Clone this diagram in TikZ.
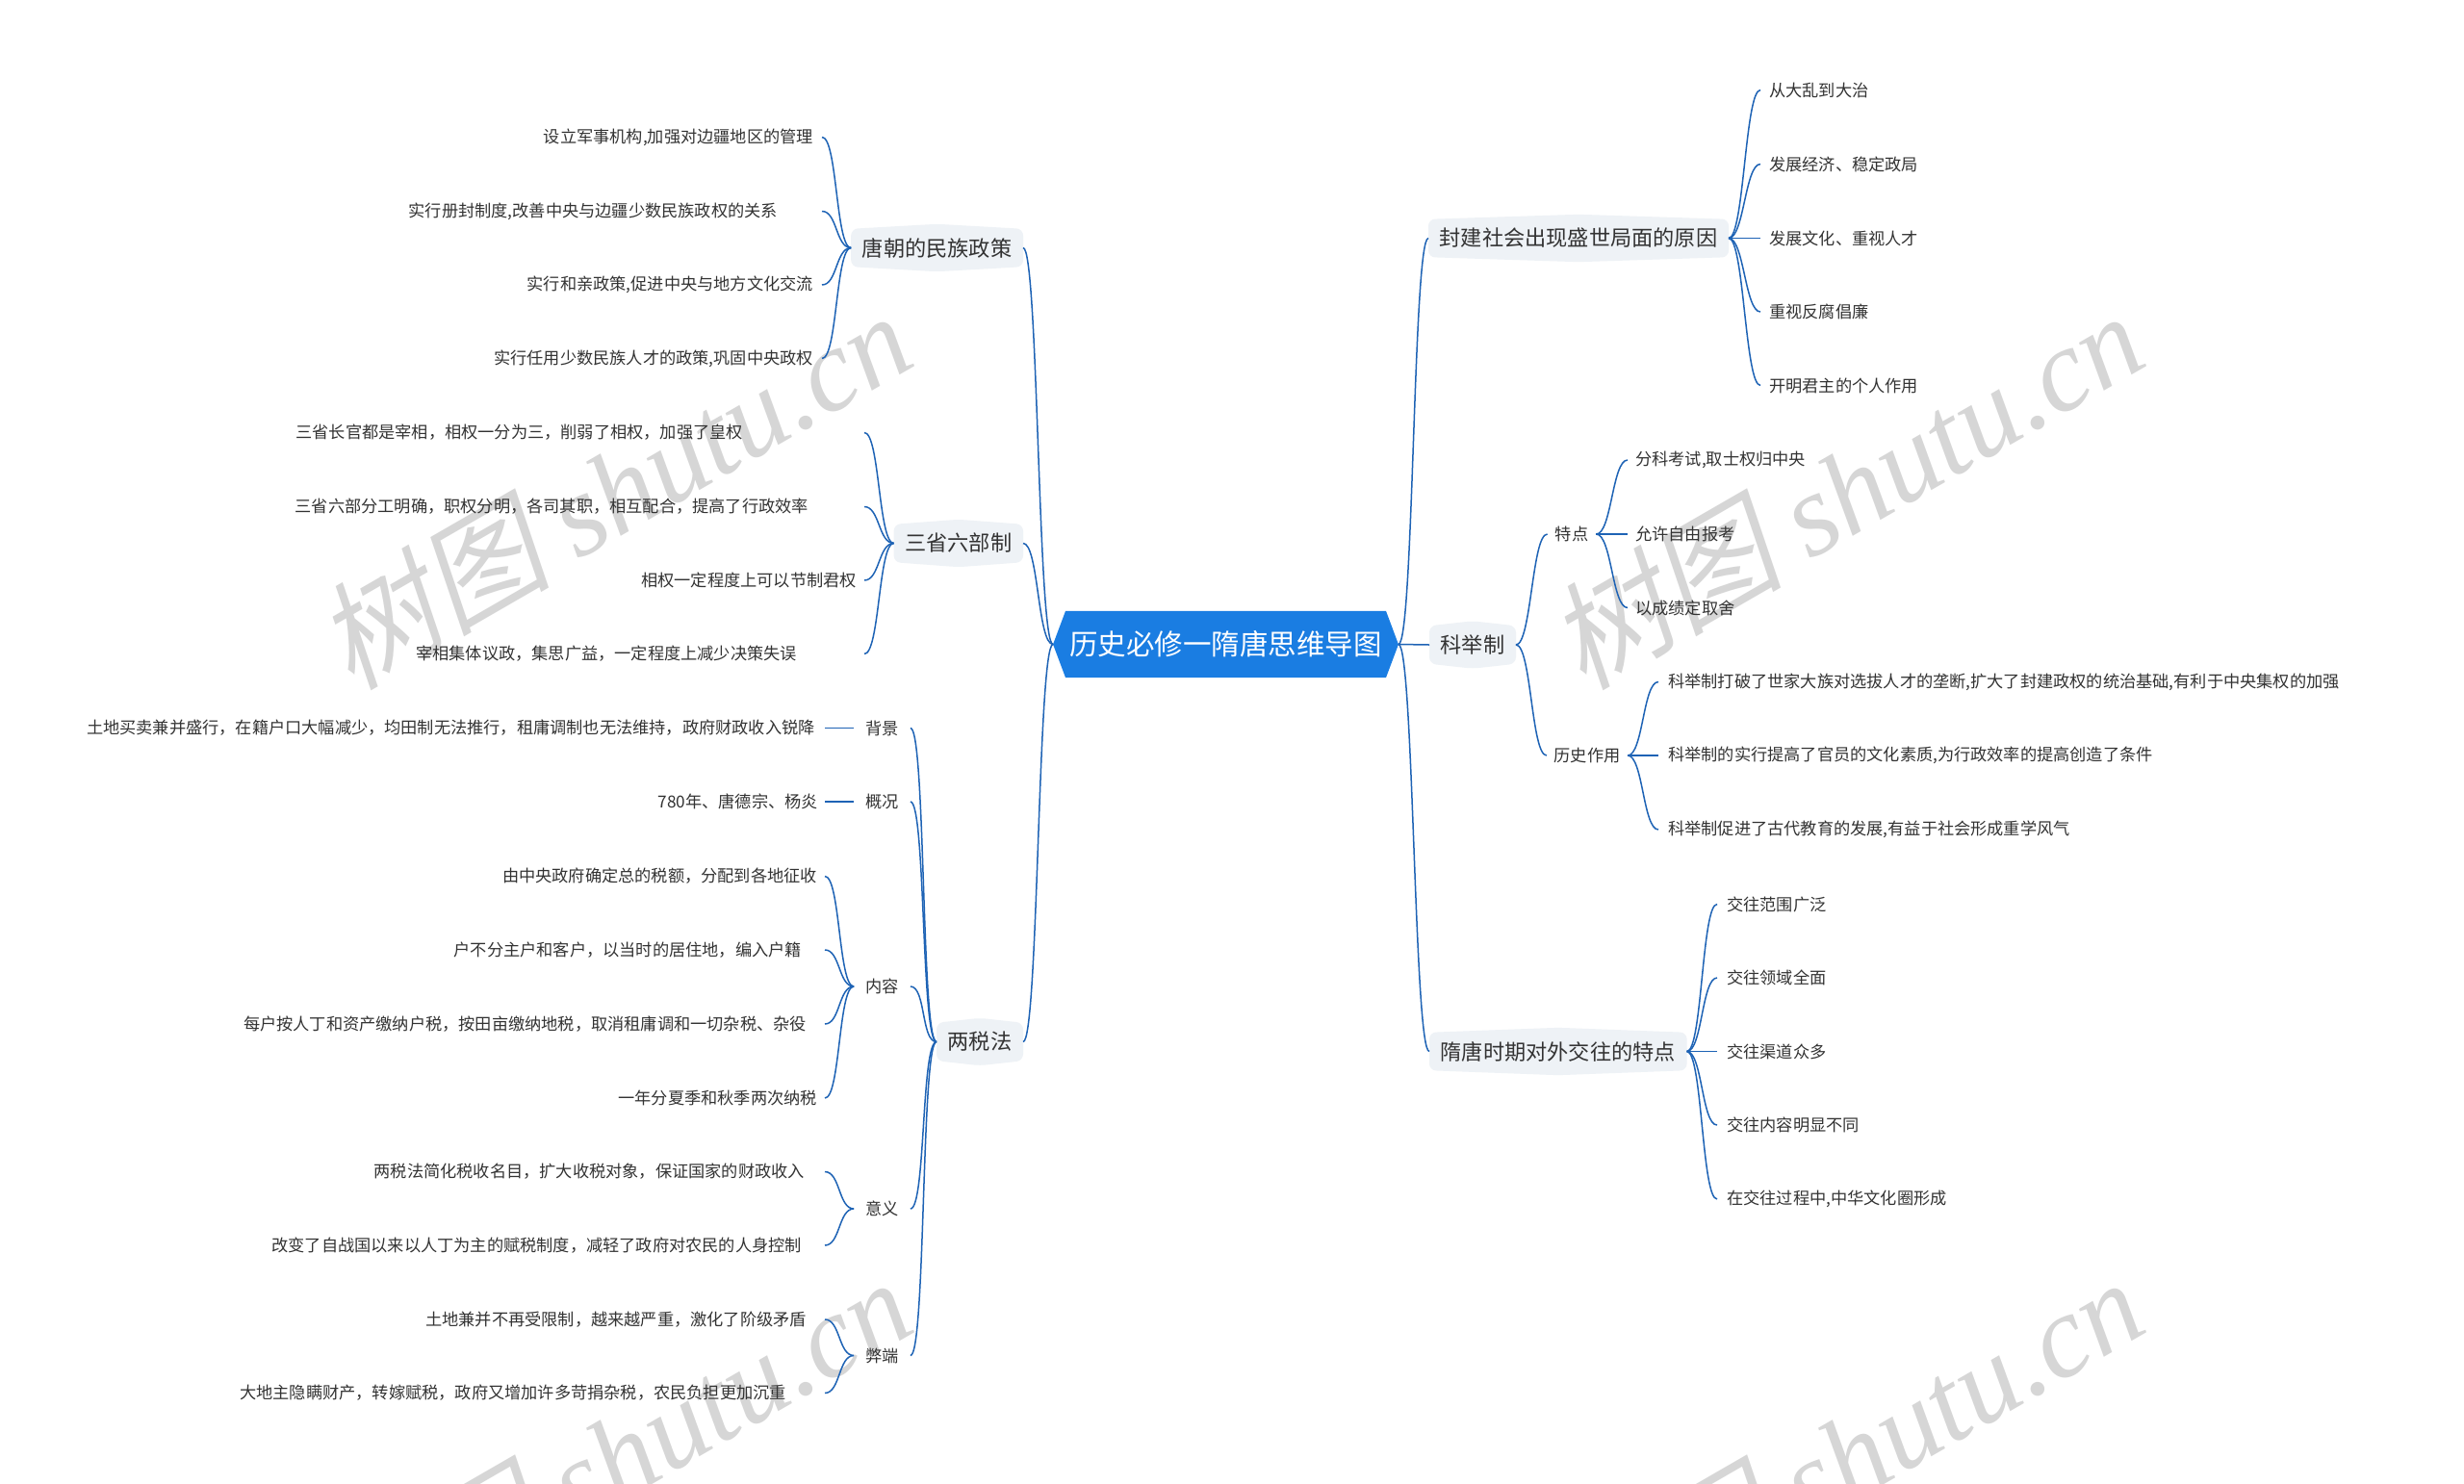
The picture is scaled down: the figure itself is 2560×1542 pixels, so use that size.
\documentclass[tikz,border=0pt]{standalone}
\usepackage{fontspec}
\newfontfamily\cjk{Noto Sans CJK SC}
\newfontfamily\wmcjk[FakeSlant=0.2]{Noto Sans CJK SC}
\newfontfamily\wmlat{Liberation Serif}
\usetikzlibrary{calc}
\definecolor{linec}{HTML}{1E63B5}
\definecolor{rootc}{HTML}{1A7DE2}
\definecolor{boxc}{HTML}{EEF2F6}
\definecolor{txtc}{HTML}{333333}
\definecolor{wmc}{HTML}{D6D6D6}
\pgfdeclarelayer{bg}
\pgfdeclarelayer{back}
\pgfsetlayers{back,bg,main}
\tikzset{
  leafnode/.style={font=\cjk\fontsize{17.2}{20}\selectfont, text=txtc, inner ysep=3},
  leafL/.style={leafnode, anchor=east},
  leafR/.style={leafnode, anchor=west},
  subnode/.style={leafnode},
  rootnode/.style={font=\cjk\fontsize{29.5}{34}\selectfont, text=white, inner xsep=17, inner ysep=0, minimum height=69},
  mainnode/.style={font=\cjk\fontsize{22.2}{26}\selectfont, text=txtc, inner xsep=11.5, inner ysep=0, minimum height=49},
  wmnode/.style={rotate=30, text=wmc, inner sep=0},
  linkL/.style={draw=linec, line width=1.5, to path={.. controls +(-16,0) and +(16,0) .. (\tikztotarget)}},
  linkR/.style={draw=linec, line width=1.5, to path={.. controls +(16,0) and +(-16,0) .. (\tikztotarget)}},
}
\begin{document}
\begin{tikzpicture}[x=1pt,y=-1pt]
\useasboundingbox (0,0) rectangle (2560,1542);
\begin{pgfonlayer}{back}
\fill[white] (0,0) rectangle (2560,1542);
\end{pgfonlayer}

% watermarks
\node[wmnode] (wm1) at (637,508) {\wmcjk\fontsize{122}{130}\selectfont 树图 \wmlat\itshape shutu.cn};
\node[wmnode] (wm2) at (1917,508) {\wmcjk\fontsize{122}{130}\selectfont 树图 \wmlat\itshape shutu.cn};
\node[wmnode] (wm3) at (637,1512) {\wmcjk\fontsize{122}{130}\selectfont 树图 \wmlat\itshape shutu.cn};
\node[wmnode] (wm4) at (1917,1512) {\wmcjk\fontsize{122}{130}\selectfont 树图 \wmlat\itshape shutu.cn};

% root
\node[rootnode] (r) at (1273.5,669.5) {历史必修一隋唐思维导图};

% main branches
\node[mainnode, anchor=east] (b1) at (1063,257.5) {唐朝的民族政策};
\node[mainnode, anchor=east] (b2) at (1063,564.5) {三省六部制};
\node[mainnode, anchor=east] (b3) at (1063,1082.5) {两税法};
\node[mainnode, anchor=west] (b4) at (1484,247.5) {封建社会出现盛世局面的原因};
\node[mainnode, anchor=west] (b5) at (1485,670) {科举制};
\node[mainnode, anchor=west] (b6) at (1485,1092.5) {隋唐时期对外交往的特点};

\begin{pgfonlayer}{bg}
\fill[rootc] (r.west) -- ($(r.north west)+(13,0)$) -- ($(r.north east)+(-13,0)$) -- (r.east) -- ($(r.south east)+(-13,0)$) -- ($(r.south west)+(13,0)$) -- cycle;
\foreach \n in {b1,b2,b3,b4,b5,b6}{
  \fill[boxc, rounded corners=7] ($(\n.north west)+(0,5)$) -- (\n.north) -- ($(\n.north east)+(0,5)$) -- ($(\n.south east)+(0,-5)$) -- (\n.south) -- ($(\n.south west)+(0,-5)$) -- cycle;
}
\end{pgfonlayer}

% branch 1 leaves
\node[leafL, inner xsep=9] (b1a) at (854,142.5) {设立军事机构,加强对边疆地区的管理};
\node[leafL, inner xsep=46] (b1b) at (854,219.5) {实行册封制度,改善中央与边疆少数民族政权的关系};
\node[leafL, inner xsep=9] (b1c) at (854,296) {实行和亲政策,促进中央与地方文化交流};
\node[leafL, inner xsep=9] (b1d) at (854,372.5) {实行任用少数民族人才的政策,巩固中央政权};

% branch 2 leaves
\node[leafL, inner xsep=126] (b2a) at (898,449.5) {三省长官都是宰相，相权一分为三，削弱了相权，加强了皇权};
\node[leafL, inner xsep=58] (b2b) at (898,526.5) {三省六部分工明确，职权分明，各司其职，相互配合，提高了行政效率};
\node[leafL, inner xsep=8] (b2c) at (898,603) {相权一定程度上可以节制君权};
\node[leafL, inner xsep=70] (b2d) at (898,679.5) {宰相集体议政，集思广益，一定程度上减少决策失误};

% branch 3 sub-branches
\node[subnode, inner xsep=12] (s1) at (916.5,756.5) {背景};
\node[subnode, inner xsep=12] (s2) at (916.5,833) {概况};
\node[subnode, inner xsep=12] (s3) at (916.5,1025) {内容};
\node[subnode, inner xsep=12] (s4) at (916.5,1256) {意义};
\node[subnode, inner xsep=12] (s5) at (916.5,1408.5) {弊端};

\node[leafL, inner xsep=10] (s1a) at (857,756.5) {土地买卖兼并盛行，在籍户口大幅减少，均田制无法推行，租庸调制也无法维持，政府财政收入锐降};
\node[leafL, inner xsep=7] (s2a) at (857,833) {780年、唐德宗、杨炎};
\node[leafL, inner xsep=8] (s3a) at (857,910.5) {由中央政府确定总的税额，分配到各地征收};
\node[leafL, inner xsep=24] (s3b) at (857,987) {户不分主户和客户，以当时的居住地，编入户籍};
\node[leafL, inner xsep=19] (s3c) at (857,1064) {每户按人丁和资产缴纳户税，按田亩缴纳地税，取消租庸调和一切杂税、杂役};
\node[leafL, inner xsep=8] (s3d) at (857,1141) {一年分夏季和秋季两次纳税};
\node[leafL, inner xsep=21] (s4a) at (857,1217.5) {两税法简化税收名目，扩大收税对象，保证国家的财政收入};
\node[leafL, inner xsep=24] (s4b) at (857,1294) {改变了自战国以来以人丁为主的赋税制度，减轻了政府对农民的人身控制};
\node[leafL, inner xsep=19] (s5a) at (857,1371) {土地兼并不再受限制，越来越严重，激化了阶级矛盾};
\node[leafL, inner xsep=40] (s5b) at (857,1447.5) {大地主隐瞒财产，转嫁赋税，政府又增加许多苛捐杂税，农民负担更加沉重};

% branch 4 leaves
\node[leafR, inner xsep=9] (b4a) at (1829,93.5) {从大乱到大治};
\node[leafR, inner xsep=9] (b4b) at (1829,170.5) {发展经济、稳定政局};
\node[leafR, inner xsep=9] (b4c) at (1829,247.5) {发展文化、重视人才};
\node[leafR, inner xsep=9] (b4d) at (1829,324) {重视反腐倡廉};
\node[leafR, inner xsep=9] (b4e) at (1829,400.5) {开明君主的个人作用};

% branch 5
\node[subnode, inner xsep=8] (k1) at (1633,555) {特点};
\node[subnode, inner xsep=7.5] (k2) at (1649,785) {历史作用};
\node[leafR, inner xsep=8] (k1a) at (1691,478) {分科考试,取士权归中央};
\node[leafR, inner xsep=8] (k1b) at (1691,555) {允许自由报考};
\node[leafR, inner xsep=8] (k1c) at (1691,631.5) {以成绩定取舍};
\node[leafR, inner xsep=10] (k2a) at (1723,708.5) {科举制打破了世家大族对选拔人才的垄断,扩大了封建政权的统治基础,有利于中央集权的加强};
\node[leafR, inner xsep=10] (k2b) at (1723,785) {科举制的实行提高了官员的文化素质,为行政效率的提高创造了条件};
\node[leafR, inner xsep=10] (k2c) at (1723,862) {科举制促进了古代教育的发展,有益于社会形成重学风气};

% branch 6 leaves
\node[leafR, inner xsep=10] (b6a) at (1784,939.5) {交往范围广泛};
\node[leafR, inner xsep=10] (b6b) at (1784,1016) {交往领域全面};
\node[leafR, inner xsep=10] (b6c) at (1784,1092.5) {交往渠道众多};
\node[leafR, inner xsep=10] (b6d) at (1784,1169) {交往内容明显不同};
\node[leafR, inner xsep=10] (b6e) at (1784,1246) {在交往过程中,中华文化圈形成};

% connectors: root
\draw[linkL] (r.west) to (b1.east);
\draw[linkL] (r.west) to (b2.east);
\draw[linkL] (r.west) to (b3.east);
\draw[linkR] (r.east) to (b4.west);
\draw[linkR] (r.east) to (b5.west);
\draw[linkR] (r.east) to (b6.west);

% branch 1
\foreach \c in {b1a,b1b,b1c,b1d} \draw[linkL] (b1.west) to (\c.east);
% branch 2
\foreach \c in {b2a,b2b,b2c,b2d} \draw[linkL] (b2.west) to (\c.east);
% branch 3
\foreach \c in {s1,s2,s3,s4,s5} \draw[linkL] (b3.west) to (\c.east);
\draw[linkL] (s1.west) to (s1a.east);
\draw[linkL] (s2.west) to (s2a.east);
\foreach \c in {s3a,s3b,s3c,s3d} \draw[linkL] (s3.west) to (\c.east);
\foreach \c in {s4a,s4b} \draw[linkL] (s4.west) to (\c.east);
\foreach \c in {s5a,s5b} \draw[linkL] (s5.west) to (\c.east);
% branch 4
\foreach \c in {b4a,b4b,b4c,b4d,b4e} \draw[linkR] (b4.east) to (\c.west);
% branch 5
\draw[linkR] (b5.east) to (k1.west);
\draw[linkR] (b5.east) to (k2.west);
\foreach \c in {k1a,k1b,k1c} \draw[linkR] (k1.east) to (\c.west);
\foreach \c in {k2a,k2b,k2c} \draw[linkR] (k2.east) to (\c.west);
% branch 6
\foreach \c in {b6a,b6b,b6c,b6d,b6e} \draw[linkR] (b6.east) to (\c.west);
\end{tikzpicture}
\end{document}
